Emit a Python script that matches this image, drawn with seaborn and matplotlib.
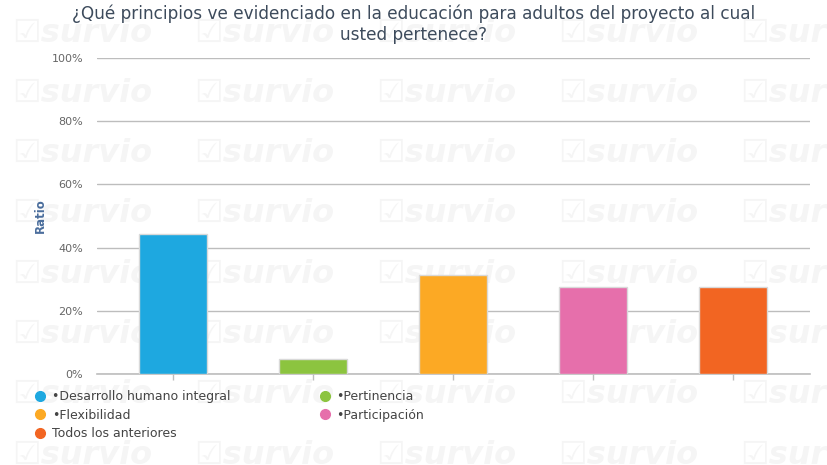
import matplotlib
matplotlib.use("Agg")
import matplotlib.pyplot as plt
import seaborn as sns
import pandas as pd
from matplotlib.lines import Line2D
from matplotlib.ticker import PercentFormatter

title = "¿Qué principios ve evidenciado en la educación para adultos del proyecto al cual\nusted pertenece?"
categories = ["•Desarrollo humano integral", "•Pertinencia", "•Flexibilidad",
              "•Participación", "Todos los anteriores"]
values = [44.4, 4.8, 31.3, 27.5, 27.5]
colors = ["#1ea8e0", "#8cc43f", "#fca924", "#e66fab", "#f26522"]
yticks = [0, 20, 40, 60, 80, 100]

sns.set_theme(style="white")
plt.rcParams['font.family'] = ['DejaVu Sans']

fig = plt.figure(figsize=(8.28, 4.65), dpi=100)

# background watermark
for r in range(8):
    for c in range(5):
        fig.text((12 + 182 * c) / 828, 1 - (33 + 60.3 * r) / 465, "☑survio",
                 fontsize=23, fontweight="bold", fontstyle="italic",
                 color="#f5f5f5", ha="left", va="center", zorder=-5, clip_on=True)

ax = fig.add_axes([97/828, 91/465, 713/828, 316/465])
ax.patch.set_visible(False)

df = pd.DataFrame({"cat": categories, "val": values})
sns.barplot(data=df, x="cat", y="val", hue="cat", palette=colors, dodge=False,
            saturation=1, width=0.486, edgecolor="#d9d9d9", linewidth=1,
            legend=False, ax=ax, zorder=3)

ax.set_xlim(-0.543, 4.55)
ax.set_ylim(0, 100)
ax.set_yticks(yticks)
ax.yaxis.set_major_formatter(PercentFormatter(decimals=0))
ax.grid(axis="y", color="#bdbdbd", linewidth=1, zorder=0)
ax.grid(axis="x", visible=False)
for s in ["top", "right", "left"]:
    ax.spines[s].set_visible(False)
ax.spines["bottom"].set_color("#bdbdbd")
ax.spines["bottom"].set_linewidth(1.2)
ax.set_xticks(range(len(categories)))
ax.set_xticklabels([])
ax.tick_params(axis="x", bottom=True, length=4, color="#bdbdbd", width=1)
ax.tick_params(axis="y", left=False, labelsize=8, labelcolor="#666666", pad=4)
ax.set_xlabel("")
ax.set_ylabel("Ratio", fontsize=8.5, color="#4a6d9c", fontweight="bold", labelpad=3)

fig.text(0.5, 0.99, title, ha="center", va="top", fontsize=12.2, color="#3d4b5c",
         linespacing=1.2)

handles = [Line2D([0], [0], marker="o", linestyle="", markersize=7,
                  markerfacecolor=c, markeredgecolor=c) for c in colors]
order = [0, 2, 4, 1, 3]
fig.legend([handles[i] for i in order], [categories[i] for i in order],
           loc="upper left", bbox_to_anchor=(28/828, 1 - 385/465),
           ncol=2, frameon=False, fontsize=9, labelcolor="#444444",
           handletextpad=0.3, columnspacing=7.0, labelspacing=0.45,
           handlelength=1.2, borderaxespad=0)

fig.savefig("out.png", dpi=100)
